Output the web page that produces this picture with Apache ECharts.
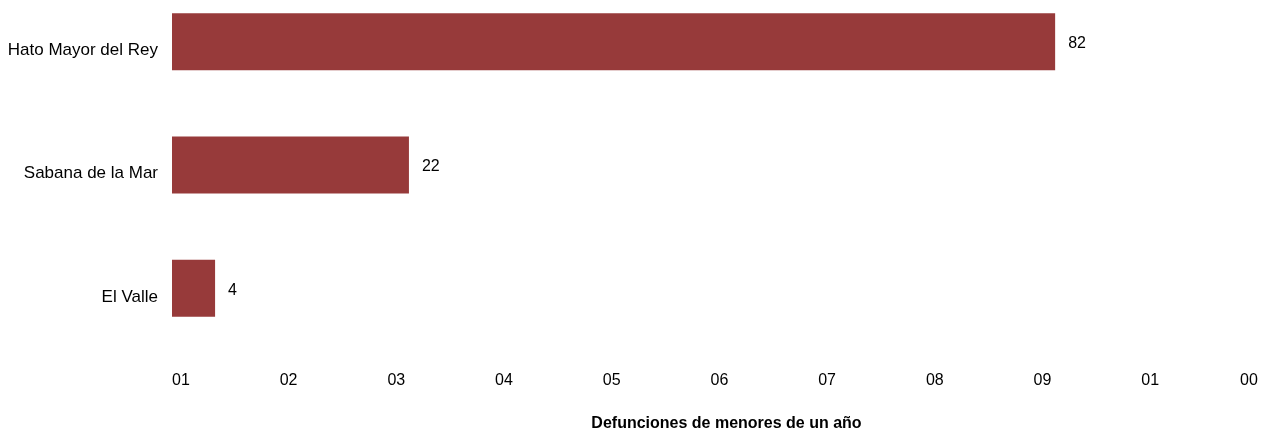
<!DOCTYPE html>
<html>
<head>
<meta charset="utf-8">
<script src="https://cdn.jsdelivr.net/npm/echarts@6/dist/echarts.min.js"></script>
<style>html,body{margin:0;padding:0;background:#fff;overflow:hidden;}#chart{width:1265px;height:449px;margin-top:-20px;}</style>
</head>
<body>
<div id="chart"></div>
<script>
var categories = ["El Valle", "Sabana de la Mar", "Hato Mayor del Rey"];
var values = [4, 22, 82];
var tickLabels = ["01", "02", "03", "04", "05", "06", "07", "08", "09", "01", "00"];
var axisTitle = "Defunciones de menores de un año";

var chart = echarts.init(document.getElementById('chart'), null, {renderer: 'canvas'});
var font = "'Liberation Sans', Arial, sans-serif";
chart.setOption({
  animation: false,
  backgroundColor: '#ffffff',
  grid: {left: 172, right: 16, top: 0, bottom: 79, containLabel: false, outerBoundsMode: 'none'},
  xAxis: {
    type: 'value', min: 0, max: 100, interval: 10,
    axisLine: {show: false}, axisTick: {show: false}, splitLine: {show: false},
    axisLabel: {
      margin: 23, fontSize: 16, color: '#000', fontFamily: font, align: 'left',
      alignMaxLabel: 'center',
      formatter: function (v) { return tickLabels[Math.round(v / 10)]; }
    },
    name: axisTitle, nameLocation: 'middle', nameGap: 66,
    nameTextStyle: {fontSize: 16, fontWeight: 'bold', color: '#000', fontFamily: font, padding: [0, 0, 0, 32]}
  },
  yAxis: {
    type: 'category', data: categories,
    axisLine: {show: false}, axisTick: {show: false}, splitLine: {show: false},
    axisLabel: {margin: 14, fontSize: 17, color: '#000', fontFamily: font, verticalAlign: 'top'}
  },
  series: [{
    type: 'bar', data: values, barWidth: 57,
    itemStyle: {color: '#973a3a'},
    label: {show: true, position: 'right', distance: 13, offset: [0, 2], fontSize: 16, color: '#000', fontFamily: font}
  }]
});
</script>
</body>
</html>
